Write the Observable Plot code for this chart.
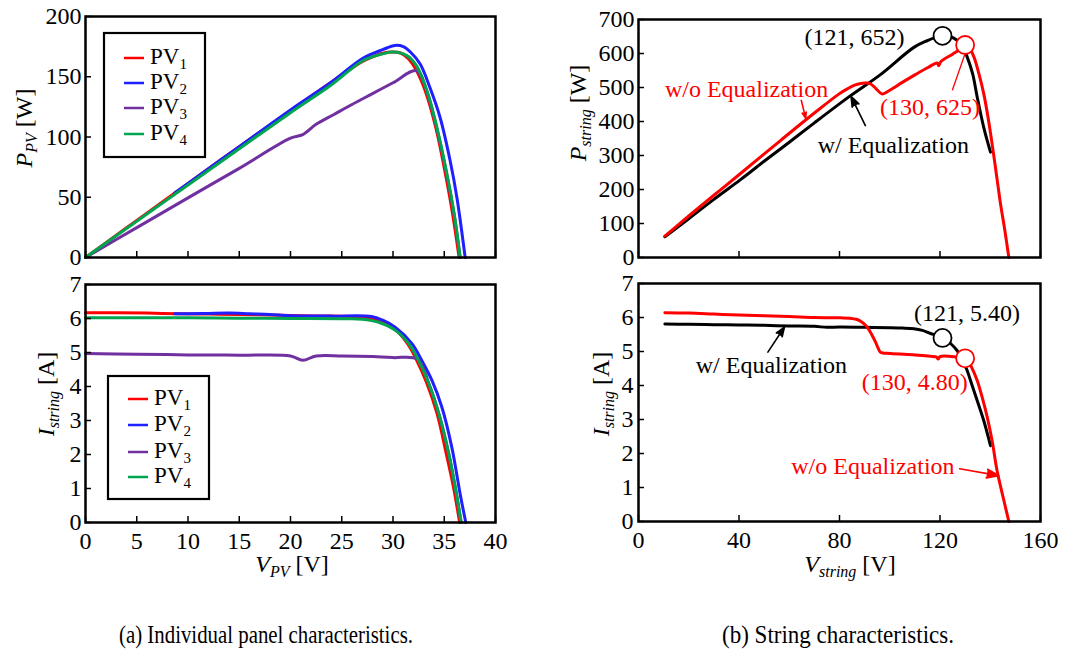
<!DOCTYPE html>
<html><head><meta charset="utf-8">
<script src="https://cdn.jsdelivr.net/npm/d3@7"></script>
<script src="https://cdn.jsdelivr.net/npm/@observablehq/plot@0.6"></script>
<style>
body{margin:0;background:#fff;}
#wrap{position:relative;width:1065px;height:650px;overflow:hidden;background:#fff;font-family:"Liberation Serif","Times New Roman",serif;}
#wrap > svg{position:absolute;}
</style></head><body><div id="wrap"></div>
<script>
// ---------------- data ----------------
// (a) individual panels : [V_PV, P_PV]
const pv1Power = [[0,0],[2,12.3],[5,30.8],[8,49.2],[10,61.5],[15,92],[20,122],[25,151.5],[27,162.5],[28,166.5],[29,169.5],[30,170.5],[30.8,169.5],[31.5,165],[32.3,155],[33.2,137],[34.2,107],[35.1,70],[35.8,37],[36.45,0]];
const pv2Power = [[8.7,53.5],[10,61.5],[15,92],[20,122.5],[23.9,145],[27.1,165.5],[29,172.5],[30.2,176],[31,175],[31.7,170.5],[32.65,160.5],[33.6,141],[34.6,116],[35.57,80.5],[36.23,50],[37.04,0]];
const pv3Power = [[0,0],[5,24.8],[10,49.5],[15,74],[20,99],[21.2,102],[22.5,110.5],[24.2,118.5],[26,127],[28,136],[30,145],[32.3,155],[33.3,138],[34.28,107],[35.25,69],[35.97,35.5],[36.55,0]];
const pv4Power = [[0,0],[5,30.1],[10,60.2],[15,90.2],[20,120.2],[23.9,142.7],[27.1,163.5],[29,169],[30,170.5],[31.35,167.5],[32.3,159],[33.3,138.5],[34.28,108],[35.25,69.5],[35.97,36],[36.55,0]];
// (a) individual panels : [V_PV, I]
const pv1Current = [[0,6.17],[3,6.17],[6,6.16],[9,6.14],[12,6.13],[15,6.12],[18,6.1],[21,6.08],[24,6.07],[27,6.05],[28.3,5.97],[29.5,5.82],[30.5,5.6],[31.5,5.22],[32.3,4.78],[33.3,4.1],[34.3,3.2],[35.2,2.02],[35.9,1.04],[36.5,0]];
const pv2Current = [[8.7,6.14],[10,6.14],[12,6.15],[14,6.16],[16,6.14],[18,6.12],[20,6.08],[24,6.07],[27.9,6.06],[29,5.95],[30.24,5.74],[31.85,5.26],[32.82,4.76],[33.8,4.18],[34.77,3.39],[35.74,2.21],[36.55,0.84],[37.1,0]];
const pv3Current = [[0,4.97],[5,4.95],[10,4.93],[15,4.92],[20,4.9],[21.2,4.77],[22.5,4.9],[25,4.9],[28,4.88],[30,4.85],[32.4,4.8],[33.5,4.08],[34.47,3.2],[35.44,2.02],[36.07,1.04],[36.65,0]];
const pv4Current = [[0,6.02],[5,6.02],[10,6.02],[15,6.01],[20,6.0],[25,5.99],[27,5.98],[28.6,5.89],[30.24,5.65],[31.53,5.26],[32.5,4.76],[33.5,4.08],[34.47,3.2],[35.44,2.02],[36.07,1.04],[36.65,0]];
// (b) string : [V_string, P_string]
const withEqPower = [[10.5,61],[20,114],[30,171],[40.6,229],[50,283],[60,339],[70,396],[84.4,476],[96.3,538],[109.6,618],[115,638],[118.9,649],[121.5,652],[124,650],[126.8,639],[129,620],[130.8,590],[133,540],[134.8,472],[137.4,383],[140.1,310]];
const withoutEqPower = [[10.5,63],[20,122],[30,183],[40.6,247],[56.5,344],[70,425],[80,482],[83.1,496],[86,507],[88.4,512],[90.5,513],[92.3,511],[94.5,497],[97,481],[100,492],[105,515],[110,537],[115,558],[118.9,572],[119.5,564],[120.3,576],[125,598],[128.2,613],[130.5,622],[132,612],[133.5,590],[135.5,540],[137.4,482],[139.5,395],[141.4,300],[143,215],[144.1,157],[145.8,80],[147.4,0]];
// (b) string : [V_string, I_string]
const withEqCurrent = [[10.5,5.81],[20,5.8],[30,5.79],[40,5.78],[50,5.77],[60,5.75],[70,5.74],[75,5.71],[80,5.72],[90,5.71],[100,5.7],[105,5.69],[109.6,5.67],[113,5.62],[116.2,5.53],[119,5.47],[121.3,5.41],[124,5.25],[126.8,5.03],[128.8,4.78],[130.8,4.44],[132.8,4.0],[134.8,3.56],[137.4,2.97],[140.1,2.23]];
const withoutEqCurrent = [[10.5,6.14],[20,6.13],[30,6.1],[40,6.07],[50,6.05],[60,6.03],[70,6.0],[80.4,5.99],[84,5.98],[87,5.94],[89,5.86],[91,5.72],[92.8,5.5],[94.3,5.28],[95.5,5.08],[96.3,4.98],[100.3,4.94],[110,4.9],[116.2,4.86],[118.5,4.84],[119.3,4.78],[120,4.85],[126.8,4.84],[130.6,4.8],[132.5,4.55],[134.8,4.15],[136.8,3.65],[138.8,3.07],[140.8,2.35],[142.7,1.5],[145,0.75],[147.4,0]];
// maximum power points
const mppWithP = [[121,652]], mppWithoutP = [[130,625]];
const mppWithI = [[121,5.40]], mppWithoutI = [[130,4.80]];
// tick values
const vpvTicks = [0,5,10,15,20,25,30,35,40];
const ppvTicks = [0,50,100,150,200];
const currentTicks = [0,1,2,3,4,5,6,7];
const vstrTicks = [0,40,80,120,160];
const pstrTicks = [0,100,200,300,400,500,600,700];
// series labels and colours
const pvNames = ["1","2","3","4"];
const pvColors = ["#ff0000","#1f1fff","#7030a0","#00a550"];
// annotations (data space)
const annotP = [
  {x:86, y:648, text:"(121, 652)", c:"black"},
  {x:116, y:441, text:"(130, 625)", c:"#ff0000"},
  {x:43, y:494, text:"w/o Equalization", c:"#ff0000"},
  {x:101.4, y:329, text:"w/ Equalization", c:"black"}
];
const annotI = [
  {x:130.7, y:6.13, text:"(121, 5.40)", c:"black"},
  {x:109.9, y:4.10, text:"(130, 4.80)", c:"#ff0000"},
  {x:52.9, y:4.59, text:"w/ Equalization", c:"black"},
  {x:93.3, y:1.61, text:"w/o Equalization", c:"#ff0000"}
];
const arrowsP = [
  {x1:64.8, y1:462, x2:66.5, y2:410, c:"#ff0000"},
  {x1:90.3, y1:388, x2:84.6, y2:474, c:"black"}
];
const linksP = [{x1:129.9, y1:598, x2:124.9, y2:492, c:"#ff0000"}];
const arrowsI = [
  {x1:51.5, y1:4.98, x2:58.1, y2:5.72, c:"black"},
  {x1:127.8, y1:1.55, x2:143.4, y2:1.35, c:"#ff0000"}
];
const captions = ["(a) Individual panel characteristics.", "(b) String characteristics."];

// ---------------- drawing ----------------
const wrap = document.getElementById("wrap");
const FONT = '"Liberation Serif","Times New Roman",serif';
const baseStyle = {fontFamily: FONT, fontSize: "24px", color: "black", background: "transparent", overflow: "visible"};
const fmt = d => String(d);

function inwardTicks(W, H, m, xt, yt) {
  const pw = W - m.l - m.r, ph = H - m.t - m.b;
  return [
    Plot.tickX(xt, {x: d => d, insetTop: ph - 6, stroke: "black", strokeWidth: 1.5}),
    Plot.tickY(yt, {y: d => d, insetRight: pw - 6, stroke: "black", strokeWidth: 1.5})
  ];
}
function place(svg, left, top) {
  svg.style.left = left + "px"; svg.style.top = top + "px";
  wrap.appendChild(svg);
}
const lineOpts = (color, w = 3) => ({x: d => d[0], y: d => d[1], stroke: color, strokeWidth: w, curve: "catmull-rom", strokeLinejoin: "round"});
const arrowOpts = {x1: "x1", y1: "y1", x2: "x2", y2: "y2", stroke: d => d.c, fill: d => d.c, strokeWidth: 1.6, headLength: 12, headAngle: 40};

// (a) top: P-V
{
  const W = 530, H = 290, m = {l:85, r:35, t:16, b:33};
  const p = Plot.plot({
    width: W, height: H, marginLeft: m.l, marginRight: m.r, marginTop: m.t, marginBottom: m.b,
    style: baseStyle,
    x: {domain: [0, 40], axis: null},
    y: {domain: [0, 200]},
    marks: [
      Plot.line(pv1Power, lineOpts(pvColors[0])),
      Plot.line(pv2Power, lineOpts(pvColors[1])),
      Plot.line(pv3Power, lineOpts(pvColors[2])),
      Plot.line(pv4Power, lineOpts(pvColors[3])),
      ...inwardTicks(W, H, m, vpvTicks, ppvTicks),
      Plot.axisY({ticks: ppvTicks, tickFormat: fmt, tickSize: 0, tickPadding: 4, label: null}),
      Plot.frame({stroke: "black", strokeWidth: 2.5})
    ]
  });
  place(p, 0, 0);
}
// (a) bottom: I-V
{
  const W = 530, H = 320, m = {l:85, r:35, t:14, b:68};
  const p = Plot.plot({
    width: W, height: H, marginLeft: m.l, marginRight: m.r, marginTop: m.t, marginBottom: m.b,
    style: baseStyle,
    x: {domain: [0, 40]},
    y: {domain: [0, 7]},
    marks: [
      Plot.line(pv1Current, lineOpts(pvColors[0])),
      Plot.line(pv2Current, lineOpts(pvColors[1])),
      Plot.line(pv3Current, lineOpts(pvColors[2])),
      Plot.line(pv4Current, lineOpts(pvColors[3])),
      ...inwardTicks(W, H, m, vpvTicks, currentTicks),
      Plot.axisY({ticks: currentTicks, tickFormat: fmt, tickSize: 0, tickPadding: 4, label: null}),
      Plot.axisX({ticks: vpvTicks, tickFormat: fmt, tickSize: 0, tickPadding: 9, label: null}),
      Plot.frame({stroke: "black", strokeWidth: 2.5})
    ]
  });
  place(p, 0, 270);
}
// (b) top: P-V string
{
  const W = 505, H = 290, m = {l:78, r:25, t:19, b:33};
  const p = Plot.plot({
    width: W, height: H, marginLeft: m.l, marginRight: m.r, marginTop: m.t, marginBottom: m.b,
    style: baseStyle,
    x: {domain: [0, 160], axis: null},
    y: {domain: [0, 700]},
    marks: [
      Plot.line(withEqPower, lineOpts("black")),
      Plot.line(withoutEqPower, lineOpts("#ff0000")),
      Plot.link(linksP, {x1: "x1", y1: "y1", x2: "x2", y2: "y2", stroke: d => d.c, strokeWidth: 1.3}),
      Plot.arrow(arrowsP, arrowOpts),
      Plot.dot(mppWithP, {x: d => d[0], y: d => d[1], r: 9, fill: "white", stroke: "black", strokeWidth: 1.8}),
      Plot.dot(mppWithoutP, {x: d => d[0], y: d => d[1], r: 9, fill: "white", stroke: "#ff0000", strokeWidth: 1.8}),
      Plot.text(annotP, {x: "x", y: "y", text: "text", fill: d => d.c, fontSize: 24, textAnchor: "middle"}),
      ...inwardTicks(W, H, m, vstrTicks, pstrTicks),
      Plot.axisY({ticks: pstrTicks, tickFormat: fmt, tickSize: 0, tickPadding: 4, label: null}),
      Plot.frame({stroke: "black", strokeWidth: 2.5})
    ]
  });
  place(p, 560, 0);
}
// (b) bottom: I-V string
{
  const W = 505, H = 320, m = {l:78, r:25, t:13, b:69};
  const p = Plot.plot({
    width: W, height: H, marginLeft: m.l, marginRight: m.r, marginTop: m.t, marginBottom: m.b,
    style: baseStyle,
    x: {domain: [0, 160]},
    y: {domain: [0, 7]},
    marks: [
      Plot.line(withEqCurrent, lineOpts("black")),
      Plot.line(withoutEqCurrent, lineOpts("#ff0000")),
      Plot.arrow(arrowsI, arrowOpts),
      Plot.dot(mppWithI, {x: d => d[0], y: d => d[1], r: 9, fill: "white", stroke: "black", strokeWidth: 1.8}),
      Plot.dot(mppWithoutI, {x: d => d[0], y: d => d[1], r: 9, fill: "white", stroke: "#ff0000", strokeWidth: 1.8}),
      Plot.text(annotI, {x: "x", y: "y", text: "text", fill: d => d.c, fontSize: 24, textAnchor: "middle"}),
      ...inwardTicks(W, H, m, vstrTicks, currentTicks),
      Plot.axisY({ticks: currentTicks, tickFormat: fmt, tickSize: 0, tickPadding: 5, label: null}),
      Plot.axisX({ticks: vstrTicks, tickFormat: fmt, tickSize: 0, tickPadding: 9, label: null}),
      Plot.frame({stroke: "black", strokeWidth: 2.5})
    ]
  });
  place(p, 560, 270);
}

// ---------------- overlay: legends, axis titles, captions ----------------
const ov = d3.create("svg").attr("width", 1065).attr("height", 650)
  .style("left", "0px").style("top", "0px").style("pointer-events", "none")
  .attr("font-family", FONT).attr("fill", "black");

function legend(x, y, w, h, rows, lineX, textX) {
  ov.append("rect").attr("x", x).attr("y", y).attr("width", w).attr("height", h)
    .attr("fill", "white").attr("stroke", "black").attr("stroke-width", 2.2);
  pvNames.forEach((n, i) => {
    const yy = rows[i];
    ov.append("line").attr("x1", lineX).attr("x2", lineX + 20).attr("y1", yy).attr("y2", yy)
      .attr("stroke", pvColors[i]).attr("stroke-width", 2.5);
    const t = ov.append("text").attr("x", textX).attr("y", yy + 6).attr("font-size", 23);
    t.append("tspan").text("PV");
    t.append("tspan").attr("font-size", 15).attr("dy", 5).text(n);
  });
}
legend(104, 33, 101, 124, [58, 83, 108, 134], 124, 150);
legend(108, 376, 101, 123, [399, 425, 452, 477], 128, 154);

function title(x, y, rot, main, sub, unit) {
  const t = ov.append("text").attr("font-size", 24).attr("text-anchor", "middle")
    .attr("transform", `translate(${x},${y}) rotate(${rot})`);
  t.append("tspan").attr("font-style", "italic").text(main);
  t.append("tspan").attr("font-style", "italic").attr("font-size", 16).attr("dy", 5).text(sub);
  t.append("tspan").attr("dy", -5).text(" [" + unit + "]");
}
title(32, 128, -90, "P", "PV", "W");
title(54, 394, -90, "I", "string", "A");
title(586, 113, -90, "P", "string", "W");
title(609, 394, -90, "I", "string", "A");
title(292, 572, 0, "V", "PV", "V");
title(850, 572, 0, "V", "string", "V");

// captions: condensed serif, as in the reference
ov.append("text").attr("x", 266).attr("y", 643).attr("font-size", 25).attr("text-anchor", "middle")
  .attr("textLength", 294).attr("lengthAdjust", "spacingAndGlyphs").text(captions[0]);
ov.append("text").attr("x", 838).attr("y", 643).attr("font-size", 25).attr("text-anchor", "middle")
  .attr("textLength", 232).attr("lengthAdjust", "spacingAndGlyphs").text(captions[1]);

wrap.appendChild(ov.node());
</script></body></html>
